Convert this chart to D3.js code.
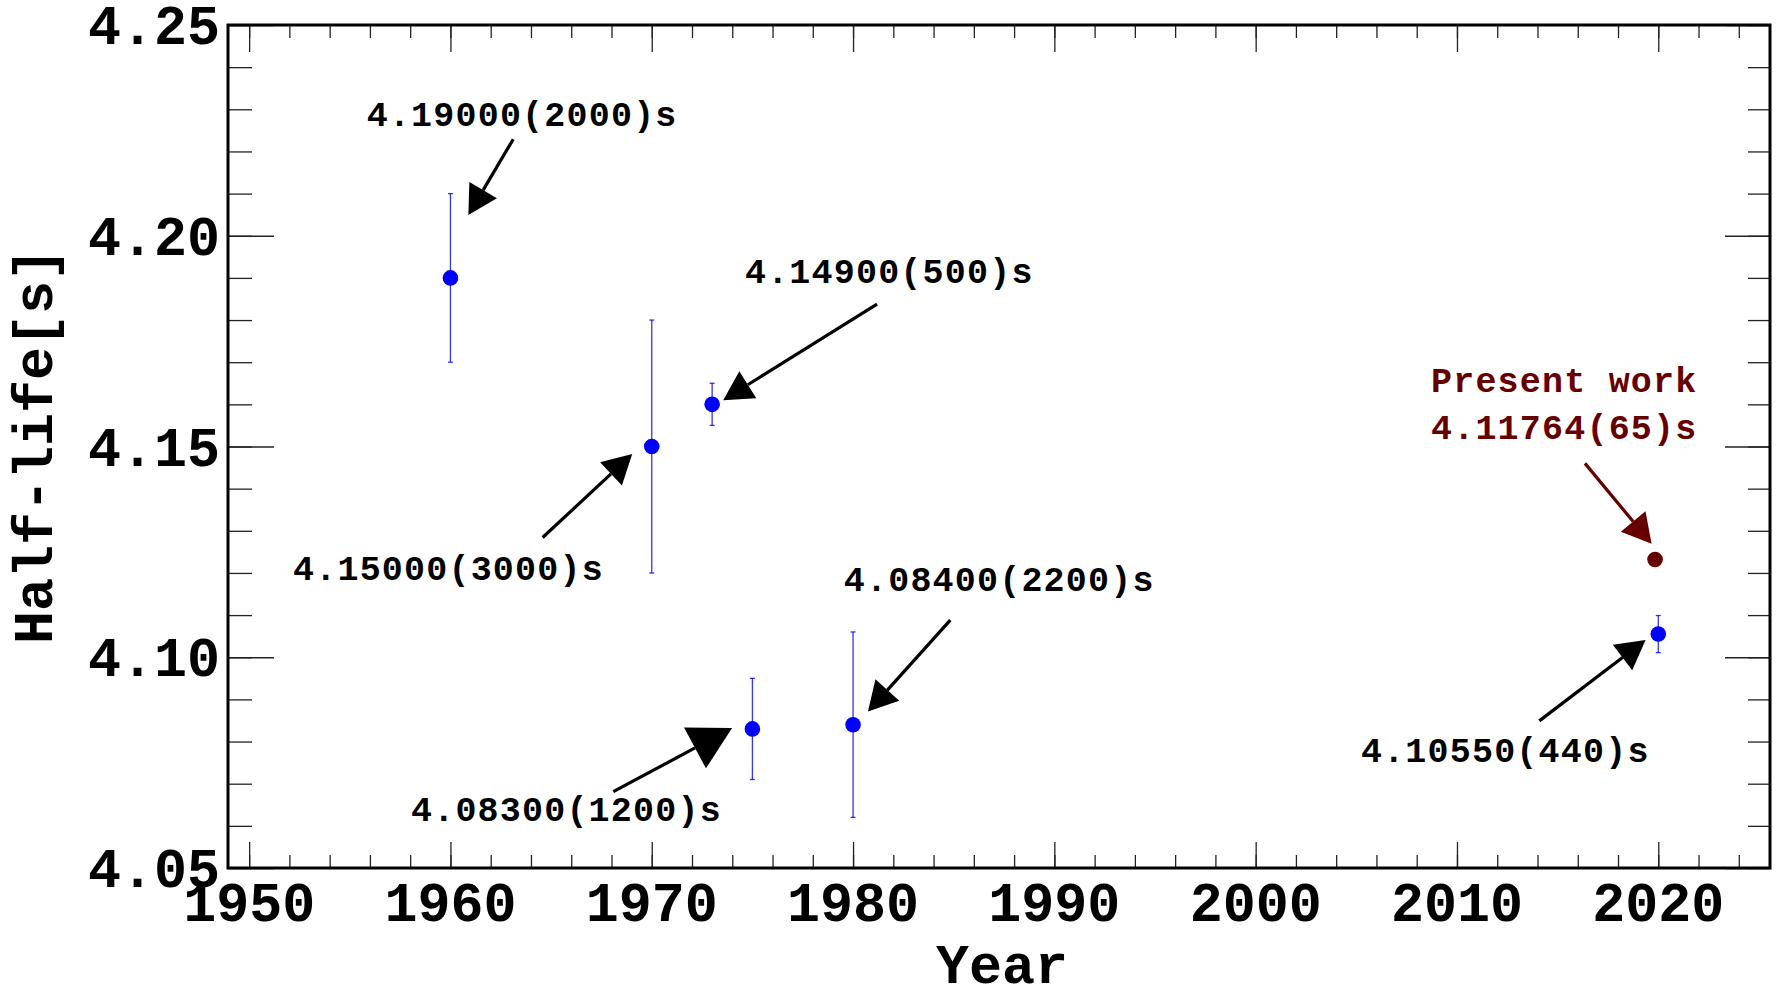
<!DOCTYPE html>
<html>
<head>
<meta charset="utf-8">
<script src="https://cdn.jsdelivr.net/npm/d3@7/dist/d3.min.js"></script>
<style>
  body { margin: 0; background: #fff; }
  svg { display: block; font-family: "Liberation Mono", "Courier New", monospace; font-weight: bold; }
</style>
</head>
<body>
<div id="chart"></div>
<script>
// Measured half-lives (blue points)
var years = [1960, 1970, 1973, 1975, 1980, 2020];
var halfLives = [4.19, 4.15, 4.16, 4.083, 4.084, 4.1055];
var errors = [0.02, 0.03, 0.005, 0.012, 0.022, 0.0044];

// This work (dark red point)
var presentYear = 2019.84;
var presentValue = 4.1232;
var presentError = 0.00065;

// Axis ticks
var xTicks = [1950, 1960, 1970, 1980, 1990, 2000, 2010, 2020];
var yTicks = [4.05, 4.1, 4.15, 4.2, 4.25];
var yTickLabels = ["4.05", "4.10", "4.15", "4.20", "4.25"];

// Annotations, in data coordinates [year, half-life]
var labelTexts = ["4.19000(2000)s", "4.14900(500)s", "4.15000(3000)s", "4.08300(1200)s", "4.08400(2200)s", "4.10550(440)s"];
var labelAt = [[1955.84, 4.226], [1974.63, 4.1888], [1952.18, 4.1183], [1958.04, 4.0612], [1979.54, 4.1156], [2005.23, 4.0752]];
var arrowFrom = [[1963.12, 4.2229], [1981.19, 4.1838], [1964.58, 4.1284], [1968.09, 4.0681], [1984.83, 4.1088], [2014.09, 4.0849]];
var arrowTo = [[1960.89, 4.2049], [1973.55, 4.161], [1969.03, 4.1482], [1973.99, 4.0832], [1980.74, 4.0871], [2019.37, 4.1041]];

var presentLines = ["Present work", "4.11764(65)s"];
var presentLabelAt = [2008.71, 4.1629];
var presentArrowFrom = [2016.36, 4.146];
var presentArrowTo = [2019.67, 4.1269];

var makeTranslate = (x, y) => `translate(${x},${y})`;

// Setup
var width = 1779;
var height = 985;
var margins = { top: 25, right: 9, bottom: 117, left: 228 };
var chartWidth = width - margins.left - margins.right;
var chartHeight = height - margins.top - margins.bottom;

var blue = "#0000ff";
var darkRed = "#660000";

var svg = d3
  .select("#chart")
  .append("svg")
  .attr("width", width)
  .attr("height", height);

var chartElement = svg.append("g").attr("transform", makeTranslate(margins.left, margins.top));

// Scales
var xScale = d3.scaleLinear().domain([1948.95, 2025.55]).range([0, chartWidth]);
var yScale = d3.scaleLinear().domain([4.05, 4.25]).range([chartHeight, 0]);

var xMinor = d3.range(1950, 2025, 2);
var yMinor = d3.range(405, 426).map((d) => d / 100);

// Axes: ROOT-style ticks on all four sides
function tickAxis(axisFn, scale, values, size) {
  return axisFn(scale).tickValues(values).tickSize(size).tickFormat("");
}

var axes = [
  { fn: d3.axisTop, at: makeTranslate(0, chartHeight), scale: xScale, major: xTicks, minor: xMinor, sizes: [26, 13] },
  { fn: d3.axisBottom, at: makeTranslate(0, 0), scale: xScale, major: xTicks, minor: xMinor, sizes: [27, 13] },
  { fn: d3.axisRight, at: makeTranslate(0, 0), scale: yScale, major: yTicks, minor: yMinor, sizes: [46, 24] },
  { fn: d3.axisLeft, at: makeTranslate(chartWidth, 0), scale: yScale, major: yTicks, minor: yMinor, sizes: [45, 22] },
];

axes.forEach(function (a) {
  chartElement.append("g").attr("class", "ticks").attr("transform", a.at).call(tickAxis(a.fn, a.scale, a.minor, a.sizes[1]));
  chartElement.append("g").attr("class", "ticks").attr("transform", a.at).call(tickAxis(a.fn, a.scale, a.major, a.sizes[0]));
});

chartElement.selectAll(".ticks .domain").remove();
chartElement.selectAll(".ticks line").attr("stroke", "#222").attr("stroke-width", 1.3);

// Frame
chartElement
  .append("rect")
  .attr("width", chartWidth)
  .attr("height", chartHeight)
  .attr("fill", "none")
  .attr("stroke", "#000")
  .attr("stroke-width", 3);

// Tick labels
chartElement
  .selectAll(".x-label")
  .data(xTicks)
  .enter()
  .append("text")
  .attr("class", "x-label")
  .attr("x", (d) => xScale(d))
  .attr("y", chartHeight + 53)
  .attr("text-anchor", "middle")
  .style("font-size", "55px")
  .text((d) => d);

chartElement
  .selectAll(".y-label")
  .data(yTicks)
  .enter()
  .append("text")
  .attr("class", "y-label")
  .attr("x", -8)
  .attr("y", (d) => yScale(d) + 19)
  .attr("text-anchor", "end")
  .style("font-size", "55px")
  .text((d, i) => yTickLabels[i]);

// Axis titles
svg
  .append("text")
  .attr("x", 1002)
  .attr("y", 983)
  .attr("text-anchor", "middle")
  .style("font-size", "55px")
  .text("Year");

svg
  .append("text")
  .attr("transform", makeTranslate(52, 446) + " rotate(-90)")
  .attr("text-anchor", "middle")
  .style("font-size", "55px")
  .text("Half-life[s]");

// Error bars and points
var points = years.map((d, i) => ({ year: d, value: halfLives[i], error: errors[i], color: blue }));
points.push({ year: presentYear, value: presentValue, error: presentError, color: darkRed });

var pointElements = chartElement
  .selectAll(".point")
  .data(points)
  .enter()
  .append("g")
  .attr("class", "point");

pointElements
  .append("line")
  .attr("x1", (d) => xScale(d.year))
  .attr("x2", (d) => xScale(d.year))
  .attr("y1", (d) => yScale(d.value + d.error))
  .attr("y2", (d) => yScale(d.value - d.error))
  .attr("stroke", (d) => d.color)
  .attr("stroke-opacity", 0.8)
  .attr("stroke-width", 1.3);

[1, -1].forEach(function (sign) {
  pointElements
    .append("line")
    .attr("x1", (d) => xScale(d.year) - 2.5)
    .attr("x2", (d) => xScale(d.year) + 2.5)
    .attr("y1", (d) => yScale(d.value + sign * d.error))
    .attr("y2", (d) => yScale(d.value + sign * d.error))
    .attr("stroke", (d) => d.color)
    .attr("stroke-opacity", 0.8)
    .attr("stroke-width", 1.3);
});

pointElements
  .append("circle")
  .attr("cx", (d) => xScale(d.year))
  .attr("cy", (d) => yScale(d.value))
  .attr("r", 7.8)
  .attr("fill", (d) => d.color);

// Arrows
function drawArrow(from, to, color, scale) {
  var x1 = xScale(from[0]);
  var y1 = yScale(from[1]);
  var x2 = xScale(to[0]);
  var y2 = yScale(to[1]);
  var len = Math.hypot(x2 - x1, y2 - y1);
  var ux = (x2 - x1) / len;
  var uy = (y2 - y1) / len;
  var headLength = 29 * scale;
  var headHalf = 16 * scale;
  var bx = x2 - ux * headLength;
  var by = y2 - uy * headLength;

  chartElement
    .append("line")
    .attr("x1", x1)
    .attr("y1", y1)
    .attr("x2", bx)
    .attr("y2", by)
    .attr("stroke", color)
    .attr("stroke-width", 3.2);

  chartElement
    .append("path")
    .attr(
      "d",
      `M${x2},${y2}L${bx - uy * headHalf},${by + ux * headHalf}L${bx + uy * headHalf},${by - ux * headHalf}Z`
    )
    .attr("fill", color);
}

// the 1975 arrow has a larger head in the original
var headScales = [1, 1, 1, 1.45, 1, 1];

labelTexts.forEach(function (t, i) {
  drawArrow(arrowFrom[i], arrowTo[i], "#000", headScales[i]);
});
drawArrow(presentArrowFrom, presentArrowTo, darkRed, 1);

// Annotation labels
chartElement
  .selectAll(".note")
  .data(labelTexts)
  .enter()
  .append("text")
  .attr("class", "note")
  .attr("x", (d, i) => xScale(labelAt[i][0]))
  .attr("y", (d, i) => yScale(labelAt[i][1]))
  .style("font-size", "35px")
  .style("letter-spacing", "1.2px")
  .text((d) => d);

chartElement
  .selectAll(".present")
  .data(presentLines)
  .enter()
  .append("text")
  .attr("class", "present")
  .attr("x", xScale(presentLabelAt[0]))
  .attr("y", (d, i) => yScale(presentLabelAt[1]) + i * 47)
  .attr("fill", darkRed)
  .style("font-size", "35px")
  .style("letter-spacing", "1.2px")
  .text((d) => d);
</script>
</body>
</html>
